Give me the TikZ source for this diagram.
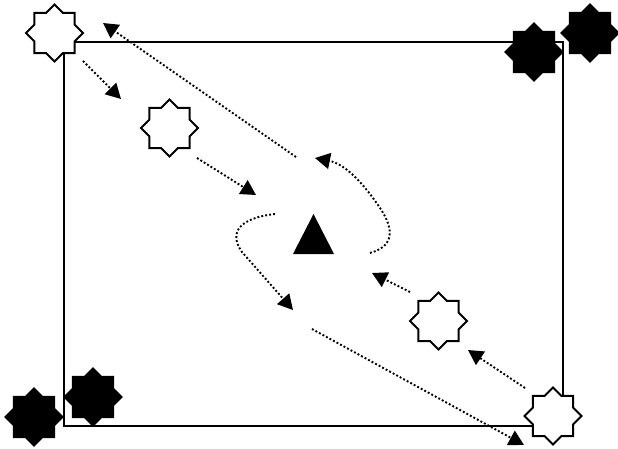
\documentclass[tikz,border=0pt]{standalone}
\usetikzlibrary{shapes.geometric,arrows.meta}
\begin{document}
\begin{tikzpicture}[x=1pt,y=-1pt,
  starw/.style={star,star points=8,star point ratio=1.307,minimum size=57pt,inner sep=0pt,draw=black,line width=2pt,fill=white},
  starb/.style={starw,fill=black},
  dotarrow/.style={line width=1.9pt,dash pattern=on 1.9pt off 2.1pt,-{Triangle[length=15pt,width=16pt]}},
  frame/.style={draw=black,line width=2pt}]
\useasboundingbox (0,0) rectangle (618,449);
% frame
\draw[frame] (64,42) rectangle (563,426);
% stars
\node[starw] (s1) at (54.5,33) {};
\node[starw] (s2) at (169.5,128) {};
\node[starw] (s3) at (438.5,321) {};
\node[starw] (s4) at (553,416) {};
\node[starb] (b1) at (534,52) {};
\node[starb] (b2) at (590,33) {};
\node[starb] (b3) at (34,417) {};
\node[starb] (b4) at (93,397) {};
% central triangle
\fill[black] (313.5,214) coordinate (tri) -- (334,254) -- (293,254) -- cycle;
% arrow end points
\coordinate (a1s) at (83,61);   \coordinate (a1e) at (121,99);
\coordinate (a2s) at (296,157); \coordinate (a2e) at (103,23);
\coordinate (a3s) at (197,158); \coordinate (a3e) at (256,195);
\coordinate (a6s) at (410,292); \coordinate (a6e) at (372,273);
\coordinate (a7s) at (525,388); \coordinate (a7e) at (468,350);
\coordinate (a8s) at (312,329); \coordinate (a8e) at (524,445);
\coordinate (c1s) at (370,253); \coordinate (c1m) at (378,205); \coordinate (c1e) at (315,158);
\coordinate (c2s) at (275,214); \coordinate (c2m) at (242,252); \coordinate (c2e) at (293,310);
% arrows
\draw[dotarrow] (a1s) -- (a1e);
\draw[dotarrow] (a2s) -- (a2e);
\draw[dotarrow] (a3s) -- (a3e);
\draw[dotarrow] (a6s) -- (a6e);
\draw[dotarrow] (a7s) -- (a7e);
\draw[dotarrow] (a8s) -- (a8e);
\draw[dotarrow] (c1s) .. controls (398,245) and (392,225) .. (c1m) .. controls (362,182) and (345,164) .. (c1e);
\draw[dotarrow] (c2s) .. controls (240,218) and (228,232) .. (c2m) -- (c2e);
\end{tikzpicture}
\end{document}
